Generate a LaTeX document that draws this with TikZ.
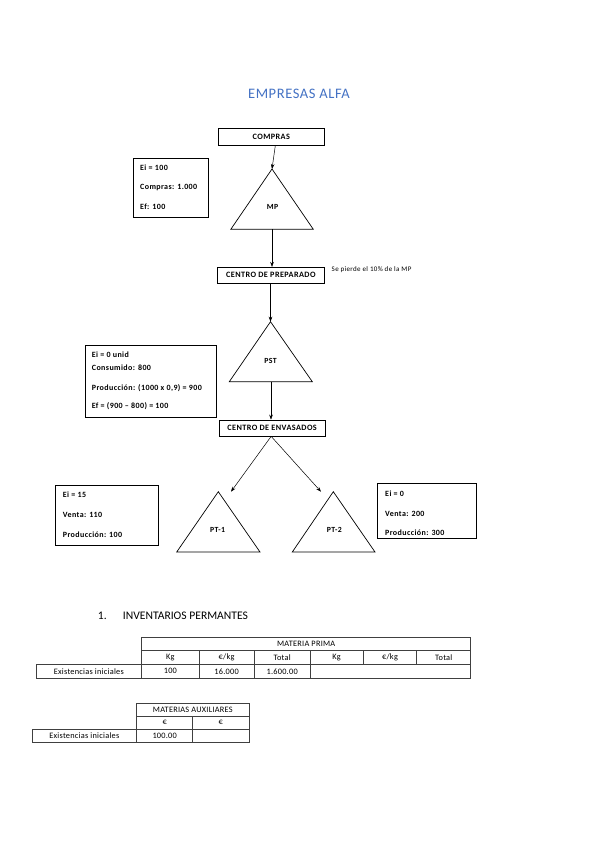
\documentclass[tikz,border=0pt]{standalone}
\usepackage{fontspec}
\setmainfont{Carlito}
\newfontfamily\spaced{Carlito}[LetterSpace=5]
\newfontfamily\tspaced{Carlito}[LetterSpace=3]
\newfontfamily\titlefont{Carlito}[LetterSpace=4]
\usetikzlibrary{arrows.meta}
\definecolor{titleblue}{HTML}{4472C4}
\definecolor{tline}{HTML}{404040}
\tikzset{
  flowbox/.style={draw, line width=0.7pt, inner sep=0pt, font=\spaced\bfseries\fontsize{8.2}{9}\selectfont},
  infobox/.style={draw, line width=0.7pt, inner sep=0pt},
  infotext/.style={anchor=west, inner sep=0pt, font=\spaced\bfseries\fontsize{8}{9}\selectfont},
  tri/.style={draw, line width=0.7pt, line join=miter},
  trilabel/.style={inner sep=0pt, font=\spaced\bfseries\fontsize{7.8}{8}\selectfont},
  arr/.style={draw, line width=0.5pt, -{Stealth[length=5pt,width=3.6pt]}},
  tcell/.style={draw=tline, line width=0.5pt, inner sep=0pt, font=\tspaced\fontsize{8.3}{9}\selectfont},
}
\begin{document}
\begin{tikzpicture}[x=1pt,y=-1pt]
\useasboundingbox[fill=white] (0,0) rectangle (599,848);

% title
\node[text=titleblue, font=\titlefont\fontsize{14.5}{16}\selectfont, inner sep=0pt] (title) at (299,94) {EMPRESAS ALFA};

% COMPRAS
\node[flowbox, minimum width=105.3pt, minimum height=16.6pt] (compras) at (271.3,137) {COMPRAS};

% box 1
\node[infobox, minimum width=75pt, minimum height=59.4pt] (box1) at (170.8,188) {};
\node[infotext] (b1a) at (140,167.7) {Ei = 100};
\node[infotext] (b1b) at (140,187.3) {Compras: 1.000};
\node[infotext] (b1c) at (140,206.7) {Ef: 100};

% MP triangle
\coordinate (mpA) at (272,169);
\coordinate (mpB) at (272,229.3);
\draw[tri] (mpA) -- (230.8,229.3) -- (313.3,229.3) -- cycle;
\node[trilabel] (mp) at (272.5,206.7) {MP};

\draw[arr] ([xshift=4pt]compras.south) -- (mpA);

% CENTRO DE PREPARADO
\node[flowbox, minimum width=106.3pt, minimum height=16pt] (prep) at (270.9,275.3) {CENTRO DE PREPARADO};
\draw[arr] (mpB) -- (prep.north -| mpB);
\node[anchor=west, inner sep=0pt, font=\spaced\fontsize{7}{8}\selectfont] (loss) at (331.5,269.8) {Se pierde el 10\% de la MP};

% PST triangle
\coordinate (pstA) at (270.5,321.7);
\coordinate (pstB) at (271,381.7);
\draw[tri] (pstA) -- (229.3,381.7) -- (312.3,381.7) -- cycle;
\node[trilabel] (pst) at (270.5,360.7) {PST};
\draw[arr] (prep.south -| pstA) -- (pstA);

% box 2
\node[infobox, minimum width=131.7pt, minimum height=72.4pt] (box2) at (150.85,381.5) {};
\node[infotext] (b2a) at (91.7,355) {Ei = 0 unid};
\node[infotext] (b2b) at (91.7,367.3) {Consumido: 800};
\node[infotext] (b2c) at (91.7,388.3) {Producción: (1000 x 0,9) = 900};
\node[infotext] (b2d) at (91.7,406) {Ef = (900 – 800) = 100};

% CENTRO DE ENVASADOS
\node[flowbox, minimum width=105.7pt, minimum height=16pt] (env) at (272.15,428) {CENTRO DE ENVASADOS};
\draw[arr] (pstB) -- (env.north -| pstB);

% PT-1 / PT-2
\coordinate (pt1A) at (218.3,491.7);
\draw[tri] (pt1A) -- (176.7,552) -- (260,552) -- cycle;
\node[trilabel] (pt1) at (217.7,530) {PT-1};
\coordinate (pt2A) at (333.3,491.7);
\draw[tri] (pt2A) -- (292.3,552) -- (375,552) -- cycle;
\node[trilabel] (pt2) at (334.3,530) {PT-2};
\coordinate (e1) at (231,491.7);
\coordinate (e2) at (321,491.7);
\draw[arr] ([xshift=-1pt]env.south) -- (e1);
\draw[arr] ([xshift=-1pt]env.south) -- (e2);

% box 3
\node[infobox, minimum width=102.6pt, minimum height=60pt] (box3) at (107,515) {};
\node[infotext] (b3a) at (62.7,494.3) {Ei = 15};
\node[infotext] (b3b) at (62.7,515) {Venta: 110};
\node[infotext] (b3c) at (62.7,535) {Producción: 100};

% box 4
\node[infobox, minimum width=98.3pt, minimum height=55pt] (box4) at (426.85,510.8) {};
\node[infotext] (b4a) at (385,494) {Ei = 0};
\node[infotext] (b4b) at (385,514) {Venta: 200};
\node[infotext] (b4c) at (385,532.7) {Producción: 300};

% section heading
\node[anchor=west, inner sep=0pt, font=\fontsize{11.6}{13}\selectfont] (num) at (97.7,616) {1.};
\node[anchor=west, inner sep=0pt, font=\fontsize{11.6}{13}\selectfont] (sec) at (122.7,616) {INVENTARIOS PERMANTES};

% table 1 : MATERIA PRIMA
\node[tcell, minimum width=329pt, minimum height=13pt] (mph) at (306.2,644) {MATERIA PRIMA};
\node[tcell, minimum width=57.3pt, minimum height=14pt] (h1) at (170.35,657.5) {Kg};
\node[tcell, minimum width=55.3pt, minimum height=14pt] (h2) at (226.65,657.5) {€/kg};
\node[tcell, minimum width=55.7pt, minimum height=14pt] (h3) at (282.15,657.5) {Total};
\node[tcell, minimum width=53.3pt, minimum height=14pt] (h4) at (336.65,657.5) {Kg};
\node[tcell, minimum width=53.4pt, minimum height=14pt] (h5) at (390,657.5) {€/kg};
\node[tcell, minimum width=54pt, minimum height=14pt] (h6) at (443.7,657.5) {Total};
\node[tcell, minimum width=105.7pt, minimum height=13.5pt] (lab1) at (88.85,671.25) {Existencias iniciales};
\node[tcell, minimum width=57.3pt, minimum height=13.5pt] (v1) at (170.35,671.25) {100};
\node[tcell, minimum width=55.3pt, minimum height=13.5pt] (v2) at (226.65,671.25) {16.000};
\node[tcell, minimum width=55.7pt, minimum height=13.5pt] (v3) at (282.15,671.25) {1.600.00};
\node[tcell, minimum width=160.7pt, minimum height=13.5pt] (v4) at (390.35,671.25) {};

% table 2 : MATERIAS AUXILIARES
\node[tcell, minimum width=112.3pt, minimum height=13pt] (mah) at (192.85,709.5) {MATERIAS AUXILIARES};
\node[tcell, minimum width=56pt, minimum height=13pt] (a1) at (164.7,722.5) {€};
\node[tcell, minimum width=56.3pt, minimum height=13pt] (a2) at (220.85,722.5) {€};
\node[tcell, minimum width=104.7pt, minimum height=13pt] (lab2) at (84.35,735.5) {Existencias iniciales};
\node[tcell, minimum width=56pt, minimum height=13pt] (w1) at (164.7,735.5) {100.00};
\node[tcell, minimum width=56.3pt, minimum height=13pt] (w2) at (220.85,735.5) {};
\end{tikzpicture}
\end{document}
